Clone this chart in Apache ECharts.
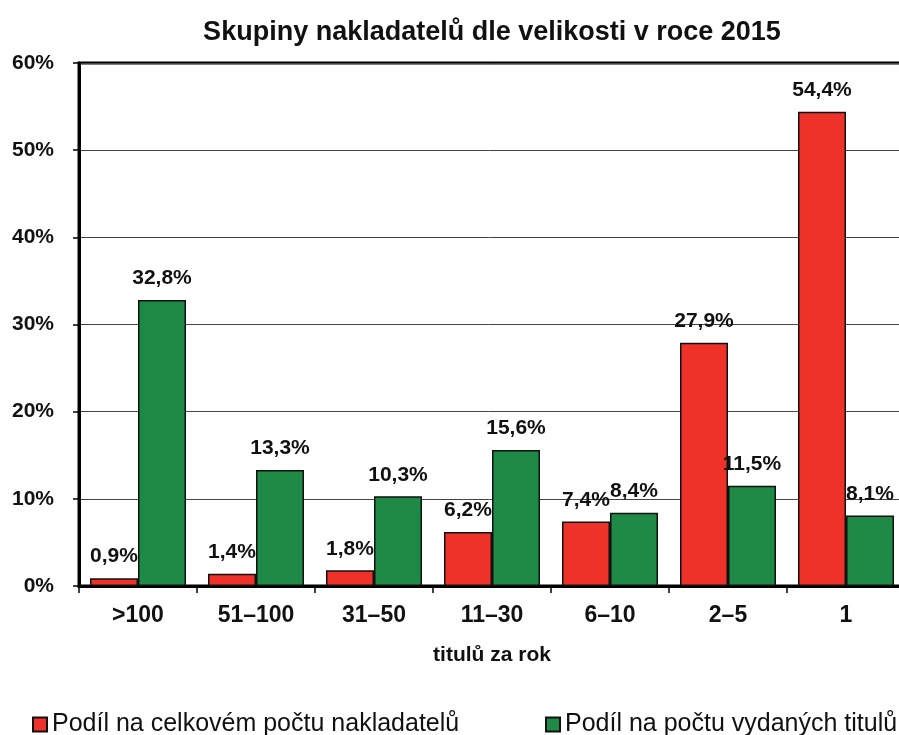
<!DOCTYPE html>
<html>
<head>
<meta charset="utf-8">
<script src="https://cdn.jsdelivr.net/npm/echarts@6/dist/echarts.min.js"></script>
<style>html,body{margin:0;padding:0;background:#fff}#c{width:899px;height:735px}</style>
</head>
<body>
<div id="c"></div>
<script>
const titleText = 'Skupiny nakladatelů dle velikosti v roce 2015';
const categories = ['>100', '51–100', '31–50', '11–30', '6–10', '2–5', '1'];
const seriesPublishers = [0.9, 1.4, 1.8, 6.2, 7.4, 27.9, 54.4];
const seriesTitles = [32.8, 13.3, 10.3, 15.6, 8.4, 11.5, 8.1];
const seriesNames = ['Podíl na celkovém počtu nakladatelů', 'Podíl na počtu vydaných titulů'];
const xAxisName = 'titulů za rok';
const yTicks = [0, 10, 20, 30, 40, 50, 60];

const font = 'Liberation Sans, Arial, sans-serif';
const chart = echarts.init(document.getElementById('c'), null, {renderer: 'canvas'});
const labelCfg = {
  show: true, position: 'top', distance: 11,
  fontFamily: font, fontWeight: 'bold', fontSize: 21, color: '#111',
  formatter: p => p.value.toFixed(1).replace('.', ',') + '%'
};
chart.setOption({
  animation: false,
  backgroundColor: '#fff',
  title: {
    text: titleText, left: 487, textAlign: 'center', top: 14,
    textStyle: {fontFamily: 'Liberation Sans Narrow, Arial Narrow, sans-serif', fontWeight: 'bold', fontSize: 27, color: '#111'}
  },
  legend: [
    {data: [seriesNames[0]], left: 27, top: 707, icon: 'rect', itemWidth: 14, itemHeight: 14, itemGap: 5,
     textStyle: {fontFamily: font, fontSize: 25, color: '#111'}},
    {data: [seriesNames[1]], left: 540, top: 707, icon: 'rect', itemWidth: 14, itemHeight: 14, itemGap: 5,
     textStyle: {fontFamily: font, fontSize: 25, color: '#111'}}
  ],
  grid: {left: 79, width: 826, top: 63, height: 523, outerBoundsMode: 'none', containLabel: false,
         show: true, borderColor: '#000', borderWidth: 3},
  xAxis: {
    type: 'category', data: categories,
    name: xAxisName, nameLocation: 'middle', nameGap: 59,
    nameTextStyle: {fontFamily: font, fontWeight: 'bold', fontSize: 21, color: '#111'},
    axisLine: {lineStyle: {color: '#000', width: 3}},
    axisTick: {show: true, length: 7, lineStyle: {color: '#000', width: 1.5}},
    axisLabel: {fontFamily: font, fontWeight: 'bold', fontSize: 23, color: '#111', margin: 18}
  },
  yAxis: {
    type: 'value', min: yTicks[0], max: yTicks[yTicks.length - 1], interval: 10,
    axisLine: {show: true, lineStyle: {color: '#000', width: 3}},
    axisTick: {show: true, length: 6, lineStyle: {color: '#000', width: 1.5}},
    axisLabel: {fontFamily: font, fontWeight: 'bold', fontSize: 21, color: '#111', margin: 25, formatter: '{value}%'},
    splitLine: {lineStyle: {color: '#444', width: 1}}
  },
  series: [
    {name: seriesNames[0], type: 'bar', data: seriesPublishers, barWidth: 48, barGap: '0%',
     itemStyle: {color: '#ee3229', borderColor: '#111', borderWidth: 1.5}, label: labelCfg},
    {name: seriesNames[1], type: 'bar', data: seriesTitles, barWidth: 48,
     itemStyle: {color: '#1e8a46', borderColor: '#111', borderWidth: 1.5}, label: labelCfg}
  ]
});
</script>
</body>
</html>
